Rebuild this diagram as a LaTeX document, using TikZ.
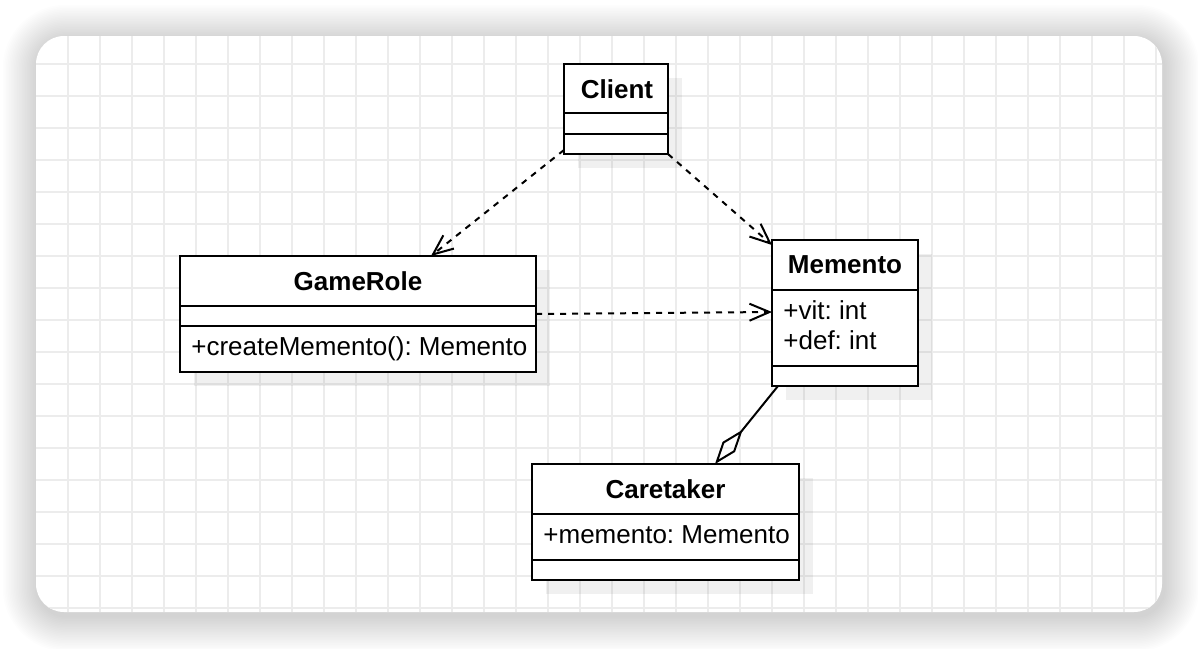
\documentclass[tikz,border=0pt]{standalone}
\usepackage{fontspec}
\setmainfont{Liberation Sans}
\usetikzlibrary{arrows.meta,calc,shadows}
\definecolor{gridc}{RGB}{236,236,236}
\begin{document}
\frenchspacing
\begin{tikzpicture}[x=0.5pt,y=-0.5pt,
  font=\fontsize{13}{15.6}\selectfont,
  cls/.style={draw=black,line width=1pt,fill=white,inner sep=0pt,outer sep=0pt,
    drop shadow={shadow xshift=7pt,shadow yshift=-7pt,fill=black,opacity=0.06}},
  divider/.style={draw=black,line width=1pt},
  ttl/.style={font=\fontsize{13}{15.6}\selectfont\bfseries,anchor=base,inner sep=0pt},
  mbr/.style={anchor=base west,inner sep=0pt},
  dep/.style={line width=1pt,dash pattern=on 3pt off 3pt,
    -{Straight Barb[length=10pt,width=8.5pt]}},
  aggr/.style={line width=1pt,-{Diamond[open,length=22pt,width=8pt]}}
]
\useasboundingbox (0,0) rectangle (1198,648);
% card shadow
\foreach \i [evaluate=\i as \r using 14+0.8*\i] in {1,...,22}
  \fill[black,opacity=0.0065,rounded corners=\r pt]
    (36-1.6*\i+2,36-1.6*\i+4) rectangle (1162+1.6*\i+2,612+1.6*\i+4);
% card
\fill[white,rounded corners=14pt] (36,36) rectangle (1162,612);
\begin{scope}
  \clip[rounded corners=14pt] (36,36) rectangle (1162,612);
  \foreach \x in {68,100,...,1160} \draw[gridc,line width=1pt] (\x,36) -- (\x,612);
  \foreach \y in {64,96,...,610} \draw[gridc,line width=1pt] (36,\y) -- (1162,\y);
\end{scope}

% classes
\node[cls,minimum width=52pt,minimum height=45pt] (client) at (616,109) {};
\node[cls,minimum width=73pt,minimum height=73pt] (mem) at (845,313) {};
\node[cls,minimum width=178pt,minimum height=58pt] (gr) at (358,314) {};
\node[cls,minimum width=133.5pt,minimum height=58pt] (care) at (665.5,522) {};

% dividers
\draw[divider] ($(client.north west)+(0,49)$) -- ($(client.north east)+(0,49)$);
\draw[divider] ($(client.north west)+(0,70)$) -- ($(client.north east)+(0,70)$);
\draw[divider] ($(mem.north west)+(0,50)$) -- ($(mem.north east)+(0,50)$);
\draw[divider] ($(mem.north west)+(0,126)$) -- ($(mem.north east)+(0,126)$);
\draw[divider] ($(gr.north west)+(0,50)$) -- ($(gr.north east)+(0,50)$);
\draw[divider] ($(gr.north west)+(0,70)$) -- ($(gr.north east)+(0,70)$);
\draw[divider] ($(care.north west)+(0,50)$) -- ($(care.north east)+(0,50)$);
\draw[divider] ($(care.north west)+(0,96)$) -- ($(care.north east)+(0,96)$);

% titles
\node[ttl] (client-t) at ($(client.north)+(1,34)$) {Client};
\node[ttl] (mem-t) at ($(mem.north)+(0,33)$) {Memento};
\node[ttl] (gr-t) at ($(gr.north)+(0,34)$) {GameRole};
\node[ttl] (care-t) at ($(care.north)+(0,34)$) {Caretaker};

% members
\node[mbr] (mem-a1) at ($(mem.north west)+(11,79)$) {+vit: int};
\node[mbr] (mem-a2) at ($(mem.north west)+(11,109)$) {+def: int};
\node[mbr] (gr-m1) at ($(gr.north west)+(11,99)$) {+createMemento(): Memento};
\node[mbr] (care-a1) at ($(care.north west)+(11,79)$) {+memento: Memento};

% connectors
\draw[dep] ($(client.south west)+(0,-4)$) -- ($(gr.north west)+(251,0)$);
\draw[dep] (client.south east) -- ($(mem.north west)+(0,5)$);
\draw[dep] (gr.east) -- ($(mem.west)+(0,-1)$);
\draw[aggr] ($(mem.south west)+(6,0)$) -- ($(care.north west)+(183,0)$);
\end{tikzpicture}
\end{document}
